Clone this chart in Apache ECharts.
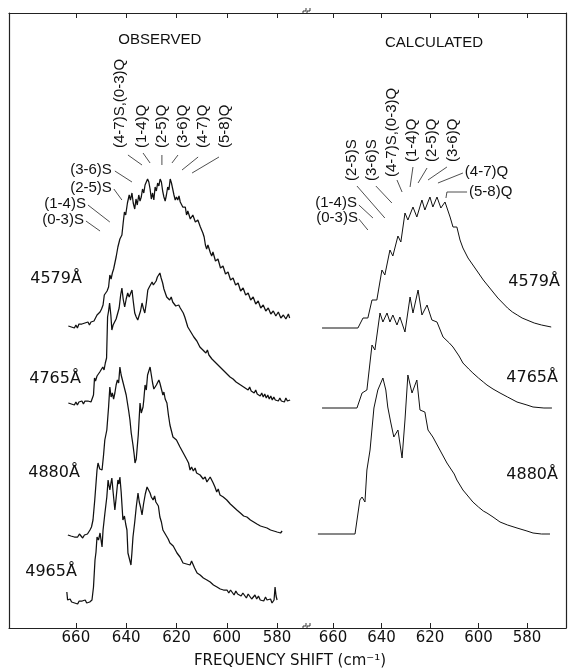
<!DOCTYPE html>
<html><head><meta charset="utf-8">
<script src="https://cdn.jsdelivr.net/npm/echarts@6/dist/echarts.min.js"></script>
<style>html,body{margin:0;padding:0;background:#fff}#c{width:575px;height:671px}</style>
</head><body><div id="c"></div>
<script>
// ---------- data (wavenumber cm^-1, relative intensity) ----------
const tickValues = [660, 640, 620, 600, 580];
const obsNames = ['4579Å', '4765Å', '4880Å', '4965Å'];
const calcNames = ['4579Å', '4765Å', '4880Å'];
const obsOffsets = [301, 225, 93, 26];
const calcOffsets = [300, 220, 94];

const obs4579 = [[663,1],[662.4,3],[661.8,0],[661.2,2],[660.6,-1],[660,2],[659.4,-1],[658.8,3],[658.2,1],[657.6,3],[657,1],[656.4,4],[655.8,2],[655.2,5],[654.6,2],[654,5],[653.4,3],[652.8,6],[652.2,8],[651.6,12],[651,12],[650.4,15],[649.8,18],[649.2,22],[648.7,32],[648.2,30],[647.6,36],[647,40],[646.5,52],[646,48],[645.5,54],[645,58],[644.5,64],[644,70],[643.3,80],[643,78],[642.5,88],[641.7,92],[641.2,104],[640.7,115],[640.2,112],[639.5,124],[638.8,132],[638.3,127],[637.7,134],[637.2,124],[636.6,118],[636.1,128],[635.6,122],[635,132],[634.5,126],[634,130],[633.5,138],[633,134],[632.5,142],[632,140],[631.5,148],[631,145],[630.5,138],[630,128],[629.5,134],[629,127],[628.5,140],[628,136],[627.5,144],[627,141],[626.5,148],[626,145],[625.5,136],[625,130],[624.5,126],[624,132],[623.5,140],[623,137],[622.5,148],[622,144],[621.5,138],[621,132],[620.5,127],[620,130],[619.5,127],[619,131],[618.5,125],[618,126],[617.5,120],[617,118],[616.5,120],[616,112],[615.5,116],[615,115],[614.5,108],[614,108],[613.5,112],[613,111],[612.5,105],[612,104],[611.5,107],[611,106],[610.5,100],[610,98],[609.5,94],[609,90],[608.5,82],[608,78],[607.5,82],[607,80],[606.5,74],[606,71],[605.5,75],[605,73],[604.5,66],[604,64],[603.5,68],[603,66],[602.5,59],[602,57],[601.5,61],[601,60],[600.5,53],[600,51],[599.5,55],[599,54],[598.5,47],[598,45],[597.5,49],[597,48],[596.5,42],[596,40],[595.5,44],[595,42],[594.5,36],[594,35],[593.5,39],[593,38],[592.5,32],[592,30],[591.5,34],[591,33],[590.5,27],[590,26],[589.5,30],[589,28],[588.5,23],[588,22],[587.5,26],[587,25],[586.5,19],[586,18],[585.5,22],[585,21],[584.5,16],[584,15],[583.5,19],[583,18],[582.5,13],[582,12],[581.5,16],[581,16],[580.5,11],[580,11],[579.5,15],[579,14],[578.5,9],[578,8],[577.5,12],[577,12],[576.5,8],[576,7],[575.5,13],[575,9]];

const obs4765 = [[663,0],[662.4,2],[661.8,-1],[661.2,1],[660.6,-2],[660,1],[659.4,-2],[658.8,1],[658.2,-1],[657.6,2],[657,-1],[656.4,2],[655.8,0],[655.2,2],[654.6,0],[654,1],[653.5,3],[653,8],[652.6,25],[652.2,22],[651.6,27],[651,28],[650.5,31],[650,29],[649.3,36],[648.8,33],[648.3,40],[647.8,45],[647.4,86],[647,92],[646.6,100],[646.1,88],[645.7,73],[645.2,78],[644.6,80],[644,84],[643.3,86],[642.8,95],[642.2,108],[641.7,115],[641.2,104],[640.6,96],[640,104],[639.4,110],[638.8,106],[638.2,110],[637.7,113],[637.2,102],[636.6,90],[636,86],[635.4,83],[634.8,88],[634.3,92],[633.7,100],[633.1,94],[632.6,90],[632,100],[631.4,113],[630.8,116],[630.3,118],[629.7,121],[629.2,118],[628.6,116],[628.1,122],[627.6,126],[627.1,124],[626.6,130],[626.1,125],[625.5,120],[625,114],[624.5,112],[623.9,106],[623.3,104],[622.7,103],[622.1,106],[621.5,101],[620.9,100],[620.3,97],[619.7,99],[619.1,98],[618.5,95],[617.9,93],[617.3,90],[616.7,86],[616.1,84],[615.5,76],[614.9,78],[614.3,71],[613.7,72],[613.1,66],[612.5,68],[611.9,62],[611.3,63],[610.7,56],[610.1,58],[609.5,53],[608.9,55],[608.3,50],[607.7,53],[607.1,48],[606.5,50],[605.9,44],[605.3,46],[604.7,41],[604.1,43],[603.5,38],[602.9,40],[602.3,35],[601.7,37],[601.1,32],[600.5,33],[599.9,29],[599.3,31],[598.7,26],[598.1,28],[597.5,24],[596.9,26],[596.3,21],[595.7,23],[595.1,19],[594.5,21],[593.9,17],[593.3,19],[592.7,15],[592.1,17],[591.5,13],[590.9,16],[590.3,12],[589.7,14],[589.1,10],[588.5,13],[587.9,9],[587.3,11],[586.7,7],[586.1,10],[585.5,6],[584.9,9],[584.3,5],[583.7,8],[583.1,4],[582.5,7],[581.9,3],[581.3,6],[580.7,3],[580.1,5],[579.5,2],[578.9,5],[578.3,2],[577.7,4],[577.1,1],[576.5,5],[575.9,2],[575.3,4],[574.8,3]];

const obs4880 = [[663.2,0],[662.5,2],[662,-1],[661.3,1],[660.6,-2],[660,0],[659.3,-2],[658.6,1],[658,-1],[657.3,-3],[656.6,0],[656,-2],[655.4,1],[654.8,3],[654.4,5],[653.8,8],[653.2,15],[652.5,35],[651.6,65],[651.2,72],[650.5,66],[649.6,65],[649,80],[648.5,95],[647.7,105],[647,128],[646.5,148],[646,138],[645.5,142],[645,136],[644.5,142],[644,150],[643.5,155],[643,152],[642.5,168],[642,160],[641.5,158],[641,150],[640.5,145],[640,140],[639.5,132],[639,124],[638.5,115],[638,102],[637.3,90],[636.8,80],[636.5,72],[636,76],[635.7,85],[635.2,100],[634.5,132],[634,122],[633.3,128],[633,135],[632.5,150],[632,145],[631.5,160],[631,158],[630.5,168],[630,160],[629.5,152],[629,146],[628.6,145],[628,150],[627.6,148],[627,155],[626.6,152],[626,146],[625.4,140],[625,143],[624.5,136],[623.8,132],[623.2,120],[622.6,110],[622,104],[621.4,98],[620.8,100],[620,95],[619.4,92],[618.6,88],[618,90],[617.3,82],[616.6,84],[615.8,75],[615.2,72],[614.6,65],[614,68],[613.3,64],[612.6,67],[612,62],[611.3,63],[610.6,60],[610,62],[609.4,56],[608.6,58],[607.9,53],[607.3,55],[606.6,58],[606,60],[605.4,52],[604.7,48],[604,43],[603.4,46],[602.7,40],[602,42],[601.4,38],[600.7,40],[600,35],[599.3,37],[598.6,31],[598,33],[597.3,28],[596.6,30],[596,25],[595.3,27],[594.6,22],[594,24],[593.3,19],[592.6,21],[592,18],[591.3,19],[590.6,15],[590,17],[589.3,13],[588.6,15],[588,11],[587.3,13],[586.6,9],[586,11],[585.3,8],[584.6,10],[584,7],[583.3,9],[582.6,5],[582,7],[581.3,4],[580.6,6],[580,3],[579.3,5],[578.6,2],[578,4]];

const obs4965 = [[663.6,10],[663.3,2],[662.8,0],[662.3,3],[661.7,0],[661.1,2],[660.5,-1],[659.9,1],[659.3,-2],[658.7,1],[658.1,-1],[657.5,1],[656.9,0],[656.3,2],[655.7,-1],[655.1,1],[654.5,0],[653.9,2],[653.6,2],[653,15],[652.4,42],[652,50],[651.6,65],[651,62],[650.4,69],[650,62],[649.6,55],[649.2,72],[648.5,88],[647.7,105],[647.2,122],[646.8,116],[646.5,112],[646,120],[645.7,124],[645.2,110],[644.5,92],[644,104],[643.3,122],[642.9,118],[642.5,125],[642,110],[641.3,82],[640.7,86],[640.2,78],[639.7,72],[639.3,49],[638.8,44],[638.5,42],[638.1,37],[637.7,50],[637.3,65],[636.6,80],[636,95],[635.3,109],[634.8,100],[634.3,95],[633.7,87],[633.1,98],[632.4,108],[631.7,115],[631.1,112],[630.5,109],[630,105],[629.3,102],[628.7,106],[628.2,100],[627.7,102],[627.2,96],[626.6,85],[626,80],[625.4,72],[624.7,70],[624,66],[623.3,63],[622.6,59],[622,60],[621.3,56],[620.6,54],[619.8,49],[619.2,50],[618.6,45],[618,42],[617.4,39],[616.7,41],[616,38],[615.3,40],[614.6,37],[614,41],[613.4,39],[612.8,34],[612.2,32],[611.8,29],[611.2,30],[610.6,27],[610,28],[609.3,24],[608.6,26],[607.9,22],[607.3,24],[606.6,20],[606,21],[605.3,17],[604.6,19],[603.9,15],[603.3,17],[602.6,13],[602,15],[601.3,12],[600.6,14],[599.9,12],[599.2,9],[598.5,12],[597.8,10],[597.1,7],[596.4,11],[595.7,8],[595,10],[594.3,6],[593.6,9],[592.9,7],[592.2,4],[591.5,8],[590.8,6],[590.1,3],[589.5,5],[588.8,7],[588.1,3],[587.4,6],[586.7,2],[586,4],[585.3,1],[584.6,5],[584,2],[583.3,0],[582.6,3],[582,-1],[581.6,-3],[581.2,2],[580.8,15],[580.4,6],[580,2]];

const calc4579 = [[664.5,0],[649.7,0],[647.6,10],[645.6,10],[643.9,28],[641.9,28],[639.8,58],[638.6,53],[636.5,78],[635.3,72],[633.2,92],[632.0,86],[630.3,115],[629.1,108],[627.0,121],[625.4,111],[623.3,128],[622.1,118],[620.0,131],[618.8,121],[617.1,131],[615.5,120],[613.8,126],[611.7,111],[610.5,101],[608.9,101],[607.6,88],[606.4,80],[604.3,70],[602,62],[600,55],[598,48],[596,42],[594,36],[592,30],[590,25],[588,20],[586,16],[584,13],[582,10],[580,8],[577,5],[574,3],[570,1]];

const calc4765 = [[664.5,0],[650.1,0],[648.0,15],[646.0,18],[643.9,63],[642.7,58],[640.6,95],[639.4,86],[637.7,95],[636.5,86],[635.3,93],[633.6,83],[632.4,91],[630.3,76],[628.2,111],[627.0,95],[624.9,118],[623.3,93],[621.2,103],[619.2,88],[617.1,86],[614.6,71],[612,65],[610.5,61],[608,52],[606.4,45],[604,39],[602.3,35],[600,30],[598,26],[596.5,23],[594,19],[591.1,15],[588,11],[584.1,6],[580,3],[577.5,1],[573,0],[569.7,0]];

const calc4880 = [[666.2,0],[650.9,0],[648.9,34],[648.0,37],[646.8,32],[646.0,64],[644.7,84],[643.1,126],[641.5,144],[639.4,156],[638.2,144],[637.4,127],[636.2,112],[634.9,97],[633.2,104],[631.5,76],[630.3,114],[629.1,159],[627.4,141],[625.4,154],[624.1,124],[622.1,122],[620.8,104],[618.8,97],[615.9,84],[613.0,71],[610,60],[608.9,54],[606.4,44],[604,37],[602.3,32],[600,27],[598,23],[596.5,21],[594,17],[591.1,12],[588,9],[584.1,6],[580,3],[577.5,1],[574,0],[570.5,0]];

const obsSeries = [obs4579, obs4765, obs4880, obs4965];
const calcSeries = [calc4579, calc4765, calc4880];

// ---------- layout / annotation anchors (in data coordinates) ----------
const obsNotes = [
  {t:'(0-3)S', at:[656.8,408], align:'right', line:[[656.0,407],[650.4,397]]},
  {t:'(1-4)S', at:[656.0,424], align:'right', line:[[655.2,423],[646.5,406]]},
  {t:'(2-5)S', at:[645.7,440], align:'right', line:[[644.9,439],[641.7,428]]},
  {t:'(3-6)S', at:[645.7,458], align:'right', line:[[644.5,457],[637.7,446]]},
  {t:'(4-7)S,(0-3)Q', at:[642.5,480], rot:true, line:[[639.3,473],[633.7,463]]},
  {t:'(1-4)Q', at:[633.7,480], rot:true, line:[[633.3,475],[630.5,465]]},
  {t:'(2-5)Q', at:[625.8,480], rot:true, line:[[625.8,473],[625.8,463]]},
  {t:'(3-6)Q', at:[617.4,480], rot:true, line:[[619.4,473],[621.8,465]]},
  {t:'(4-7)Q', at:[609.5,480], rot:true, line:[[611.4,471],[617.8,458]]},
  {t:'(5-8)Q', at:[600.7,480], rot:true, line:[[603.1,471],[613.8,455]]}
];
const calcNotes = [
  {t:'(0-3)S', at:[649.7,410], align:'right', line:[[649.3,409],[645.6,398]]},
  {t:'(1-4)S', at:[650.1,425], align:'right', line:[[649.3,423],[643.5,410]]},
  {t:'(2-5)S', at:[652.2,447], rot:true, line:[[650.1,442],[638.6,410]]},
  {t:'(3-6)S', at:[643.9,447], rot:true, line:[[642.3,442],[635.7,425]]},
  {t:'(4-7)S,(0-3)Q', at:[635.7,451], rot:true, line:[[633.6,448],[631.5,436]]},
  {t:'(1-4)Q', at:[627.4,466], rot:true, line:[[627.0,461],[628.2,441]]},
  {t:'(2-5)Q', at:[619.2,466], rot:true, line:[[621.2,460],[624.9,445]]},
  {t:'(3-6)Q', at:[610.5,466], rot:true, line:[[613.0,461],[620.8,448]]},
  {t:'(4-7)Q', at:[605.6,456], align:'left', line:[[606.4,455],[616.7,445]]},
  {t:'(5-8)Q', at:[603.9,436], align:'left', line:[[604.7,436],[613.0,436],[613.4,430]]}
];
const obsNameAt = [[657.6,349],[658,249],[658.4,155],[659.6,56]];
const calcNameAt = [[566.4,346],[567.2,250],[567.2,153]];

const INK = '#111';
const FNUM = '"DejaVu Sans", sans-serif';
const FTXT = '"Liberation Sans", Arial, sans-serif';

const chart = echarts.init(document.getElementById('c'), null, {renderer:'canvas'});

function xa(grid, pos, min, max, labels) {
  return {
    type:'value', gridIndex:grid, position:pos, min:min, max:max, inverse:true,
    axisLine:{show:true, onZero:false, lineStyle:{color:'#222', width:1.2}},
    axisTick:{show:true, inside:true, length:5, customValues:tickValues, lineStyle:{color:'#222', width:1}},
    axisLabel:{show:labels, customValues:tickValues, margin:3, color:INK, fontFamily:FNUM, fontSize:15},
    splitLine:{show:false}
  };
}
function ya(grid, pos) {
  return {
    type:'value', gridIndex:grid, position:pos, min:0, max:615,
    axisLine:{show:true, onZero:false, lineStyle:{color:'#222', width:1.2}},
    axisTick:{show:false}, axisLabel:{show:false}, splitLine:{show:false}
  };
}

const series = [];
obsSeries.forEach((d, i) => series.push({
  type:'line', name:'obs ' + obsNames[i], xAxisIndex:0, yAxisIndex:0,
  data:d.map(p => [p[0], p[1] + obsOffsets[i]]),
  showSymbol:false, symbol:'none', silent:true,
  lineStyle:{color:INK, width:1.25}
}));
calcSeries.forEach((d, i) => series.push({
  type:'line', name:'calc ' + calcNames[i], xAxisIndex:2, yAxisIndex:1,
  data:d.map(p => [p[0], p[1] + calcOffsets[i]]),
  showSymbol:false, symbol:'none', silent:true,
  lineStyle:{color:INK, width:1}
}));

chart.setOption({
  animation:false,
  backgroundColor:'#fff',
  grid:[
    {left:9, top:13, width:298, height:615},
    {left:307, top:13, width:259, height:615}
  ],
  xAxis:[
    xa(0, 'bottom', 568.1, 686.6, true),
    xa(0, 'top', 568.1, 686.6, false),
    xa(1, 'bottom', 563.9, 670.7, true),
    xa(1, 'top', 563.9, 670.7, false)
  ],
  yAxis:[ ya(0, 'left'), ya(1, 'right') ],
  series:series
});

const P = [
  p => chart.convertToPixel({xAxisIndex:0, yAxisIndex:0}, p),
  p => chart.convertToPixel({xAxisIndex:2, yAxisIndex:1}, p)
];
const g = [];
function textEl(pt, txt, opts) {
  const el = {
    type:'text', x:pt[0], y:pt[1], silent:true,
    style:{text:txt, fill:INK, font:(opts.size || 15) + 'px ' + (opts.family || FTXT),
      align:opts.align || 'left', verticalAlign:'middle'}
  };
  if (opts.rot) el.rotation = Math.PI / 2;
  g.push(el);
}
function notes(list, k) {
  list.forEach(n => {
    const pt = P[k](n.at);
    textEl(pt, n.t, {align: n.rot ? 'left' : n.align, rot: n.rot, size: 15});
    g.push({type:'polyline', silent:true, shape:{points:n.line.map(q => P[k](q))},
      style:{stroke:'#222', lineWidth:0.8, fill:null}});
  });
}
notes(obsNotes, 0);
notes(calcNotes, 1);
obsNames.forEach((s, i) => textEl(P[0](obsNameAt[i]), s, {align:'right', size:16, family:FNUM}));
calcNames.forEach((s, i) => textEl(P[1](calcNameAt[i]), s, {align:'right', size:16, family:FNUM}));
textEl(P[0]([626.6, 588]), 'OBSERVED', {align:'center', size:15});
textEl(P[1]([618.3, 585]), 'CALCULATED', {align:'center', size:15});
g.push({type:'text', x:290, y:661, silent:true,
  style:{text:'FREQUENCY SHIFT (cm⁻¹)', fill:INK, font:'15px ' + FNUM, align:'center', verticalAlign:'middle'}});

// axis break marks (on the top and bottom frame lines, at the panel junction)
const breakX = P[1]([670.7, 0])[0];
[P[1]([670.7, 615])[1], P[1]([670.7, 0])[1]].forEach(yy => {
  [-2.5, 1.5].forEach(dx => g.push({type:'polyline', silent:true, z:100,
    shape:{points:[[breakX + dx - 1.5, yy + 1], [breakX + dx - 1.5, yy - 2], [breakX + dx + 1.5, yy - 2], [breakX + dx + 1.5, yy - 5]]},
    style:{stroke:'#222', lineWidth:0.9, fill:null}}));
});

chart.setOption({graphic:{elements:g}});
</script>
</body></html>
